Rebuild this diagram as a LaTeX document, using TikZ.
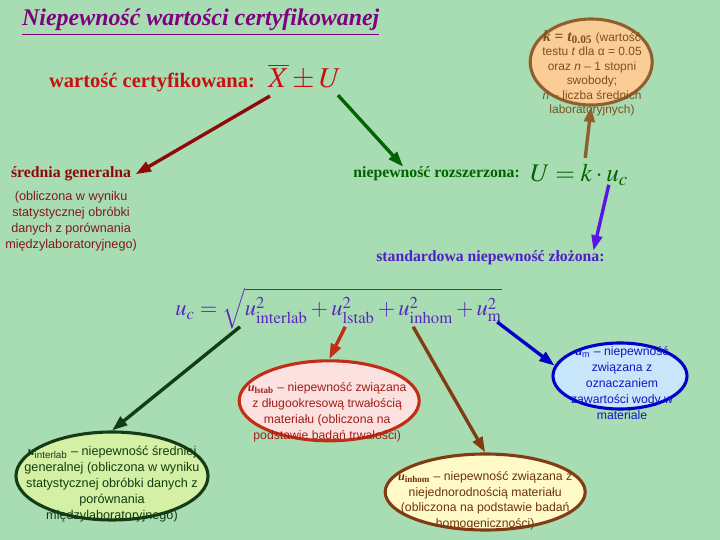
\documentclass[tikz,border=0pt]{standalone}
\usepackage{mathptmx}
\usepackage{fontspec}
\setmainfont{Liberation Serif}
\setsansfont{Liberation Sans}
\usepackage{tikz}
\usetikzlibrary{arrows.meta, shapes.geometric, positioning, calc}
\definecolor{mintbg}{RGB}{168,220,178}
\definecolor{titlepurple}{RGB}{128,0,128}
\definecolor{certred}{RGB}{200,16,16}
\definecolor{sredred}{RGB}{140,10,10}
\definecolor{descred}{RGB}{130,25,25}
\definecolor{rozgreen}{RGB}{0,100,0}
\definecolor{zlozpurple}{RGB}{80,30,200}
\definecolor{ucpurple}{RGB}{90,40,190}
\definecolor{ucarrow}{RGB}{90,20,230}
\definecolor{kfill}{RGB}{250,205,150}
\definecolor{kdraw}{RGB}{145,95,45}
\definecolor{ktext}{RGB}{125,80,30}
\definecolor{lsfill}{RGB}{252,225,225}
\definecolor{lsdraw}{RGB}{195,45,20}
\definecolor{lstext}{RGB}{160,30,20}
\definecolor{umfill}{RGB}{200,230,250}
\definecolor{umdraw}{RGB}{0,0,200}
\definecolor{umtext}{RGB}{20,20,200}
\definecolor{infill}{RGB}{212,240,165}
\definecolor{indraw}{RGB}{20,60,20}
\definecolor{ihfill}{RGB}{255,250,200}
\definecolor{ihdraw}{RGB}{130,60,20}
\definecolor{ihtext}{RGB}{110,50,10}
\newcommand{\bubfont}{\sffamily\fontsize{8.7}{11.3}\selectfont}
\newcommand{\headfont}{\rmfamily\bfseries\fontsize{11.2}{13}\selectfont}
\newcommand{\uvar}[1]{{\rmfamily\bfseries\itshape u}\textsubscript{\rmfamily\bfseries #1}}

\begin{document}
\begin{tikzpicture}[
  bubble/.style={ellipse, line width=2.2pt, inner sep=0pt},
  bubtext/.style={align=center, font=\bubfont},
  head/.style={font=\headfont, inner sep=0pt, anchor=base west},
  arr/.style={line width=2.4pt, -{Triangle[length=11pt,width=7.5pt]}},
]
  % Background
  \fill[mintbg] (0,0) rectangle (18,13.5);
  % Title
  \node[anchor=base, inner sep=0pt, text=titlepurple,
    font={\bfseries\itshape\fontsize{17}{20}\selectfont}] (title) at (5.02,12.85)
    {\underline{Niepewność wartości certyfikowanej}};
  % Certified value
  \node[head, anchor=base east, text=certred,
    font={\rmfamily\bfseries\fontsize{14.6}{17}\selectfont}] (certlbl) at (6.38,11.3)
    {wartość certyfikowana:};
  \node[inner sep=0pt, anchor=base west, text=certred,
    font=\fontsize{20.5}{22}\selectfont] (certval) at (6.7,11.3) {$\overline{X} \pm U$};
  \coordinate (xbarfoot) at (6.75,11.1);
  \coordinate (ufoot) at (8.45,11.12);
  % General mean
  \node[head, text=sredred] (srednia) at (0.27,9.05) {średnia generalna};
  \node[below=0.12cm of srednia, align=center, text=descred,
    font={\sffamily\fontsize{9}{11.4}\selectfont}] (sredopis)
    {(obliczona w wyniku\\statystycznej obróbki\\danych z porównania\\międzylaboratoryjnego)};
  % Expanded uncertainty
  \node[head, text=rozgreen] (rozsz) at (8.83,9.05) {niepewność rozszerzona:};
  \node[inner sep=0pt, anchor=base west, text=rozgreen,
    font=\fontsize{18}{20}\selectfont] (ukomb) at (13.25,8.95) {$U = k \cdot u_c$};
  \coordinate (kfoot) at (14.63,9.55);
  \coordinate (ucfoot) at (15.22,8.88);
  % Combined standard uncertainty
  \node[head, text=zlozpurple] (zloz) at (9.4,6.95) {standardowa niepewność złożona:};
  \node[inner sep=0pt, anchor=base west, text=ucpurple,
    font=\fontsize{16}{18}\selectfont] (ucform) at (4.38,5.6)
    {$u_c = \sqrt{u^2_{\mathrm{interlab}} + u^2_{\mathrm{lstab}} + u^2_{\mathrm{inhom}} + u^2_{\mathrm{m}}}$};
  \coordinate (interfoot) at (6.0,5.33);
  \coordinate (lstabfoot) at (8.63,5.33);
  \coordinate (inhomfoot) at (10.33,5.33);
  \coordinate (mfoot) at (12.43,5.45);
  % Ellipses
  \foreach \nm/\x/\y/\w/\h/\fc/\dc in {kbub/14.78/11.95/3.05/2.15/kfill/kdraw,
      lsbub/8.23/3.48/4.5/2.0/lsfill/lsdraw,
      umbub/15.5/4.1/3.35/1.65/umfill/umdraw,
      inbub/2.8/1.6/4.8/2.2/infill/indraw,
      ihbub/12.13/1.2/5.0/1.9/ihfill/ihdraw}{
    \node[bubble, fill=\fc, draw=\dc, minimum width=\w cm, minimum height=\h cm] (\nm) at (\x,\y) {};
  }
  \node[bubtext, text=ktext, font={\sffamily\fontsize{8.5}{10.3}\selectfont}] (ktxt) at (14.8,11.67)
    {{\rmfamily\bfseries\fontsize{11}{10}\selectfont\itshape k \upshape= \itshape t\textsubscript{\upshape 0.05}} (wartość\\
     testu \textit{t} dla α = 0.05\\oraz \textit{n} – 1 stopni\\swobody;\\\textit{n} – liczba średnich\\laboratoryjnych)};
  \node[bubtext, text=lstext] (lstxt) at (8.18,3.2)
    {\uvar{lstab} – niepewność związana\\z długookresową trwałością\\materiału (obliczona na\\podstawie badań trwałości)};
  \node[bubtext, text=umtext] (umtxt) at (15.55,3.93)
    {{\rmfamily\bfseries\itshape u}\textsubscript{m} – niepewność\\związana z\\oznaczaniem\\zawartości wody w\\materiale};
  \node[bubtext, text=indraw, font={\sffamily\fontsize{9}{11.4}\selectfont}] (intxt) at (2.8,1.4)
    {{\rmfamily\bfseries\itshape u}\textsubscript{interlab} – niepewność średniej\\generalnej (obliczona w wyniku\\statystycznej obróbki danych z\\porównania\\międzylaboratoryjnego)};
  \node[bubtext, text=ihtext] (ihtxt) at (12.13,0.98)
    {\uvar{inhom} – niepewność związana z\\niejednorodnością materiału\\(obliczona na podstawie badań\\homogeniczności)};
  % Arrows
  \draw[arr, sredred] (xbarfoot) -- ([xshift=3pt]srednia.east);
  \draw[arr, rozgreen] (ufoot) -- ($(rozsz.north west)!0.3!(rozsz.north east)$);
  \draw[arr, kdraw] (kfoot) -- (kbub.south);
  \draw[arr, ucarrow] (ucfoot) -- ($(zloz.north west)!0.95!(zloz.north east)$);
  \draw[arr, indraw] (interfoot) -- (inbub.north);
  \draw[arr, lsdraw] (lstabfoot) -- (lsbub.north);
  \draw[arr, ihdraw] (inhomfoot) -- (ihbub.north);
  \draw[arr, umdraw] (mfoot) -- (umbub.171);
\end{tikzpicture}
\end{document}
